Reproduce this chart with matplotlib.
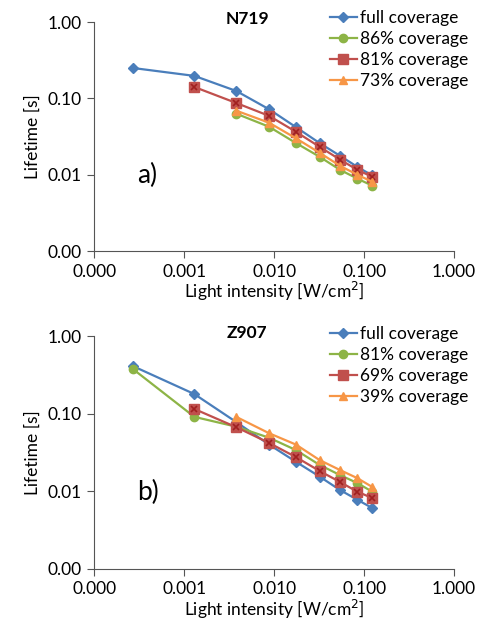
import matplotlib.pyplot as plt
from matplotlib.ticker import FixedLocator, FormatStrFormatter, NullLocator

plt.rcParams['font.family'] = ['Lato', 'DejaVu Sans']

# light intensity [W/cm2]
x_full = [0.00027, 0.0013, 0.0038, 0.0088, 0.0175, 0.032, 0.054, 0.084, 0.123]
x_part = [0.0013, 0.0038, 0.0088, 0.0175, 0.032, 0.054, 0.084, 0.123]
x_short = [0.0038, 0.0088, 0.0175, 0.032, 0.054, 0.084, 0.123]

# N719
n_full = [0.25, 0.197, 0.125, 0.072, 0.042, 0.026, 0.0177, 0.0127, 0.0098]
n_86 = [0.063, 0.0425, 0.026, 0.0172, 0.0116, 0.0089, 0.0072]
n_81 = [0.141, 0.087, 0.059, 0.0365, 0.0232, 0.0158, 0.0116, 0.0094]
n_73 = [0.069, 0.048, 0.030, 0.0194, 0.0131, 0.0100, 0.0081]

# Z907
z_full = [0.41, 0.179, 0.078, 0.040, 0.024, 0.0155, 0.0104, 0.0078, 0.0061]
z_81 = [0.376, 0.091, 0.068, 0.049, 0.034, 0.0219, 0.0162, 0.0128, 0.0099]
z_69 = [0.115, 0.067, 0.042, 0.0276, 0.0183, 0.0132, 0.0099, 0.0082]
z_39 = [0.091, 0.056, 0.040, 0.0253, 0.0188, 0.0148, 0.0114]

xticks = [0.0001, 0.001, 0.01, 0.1, 1]
yticks = [0.001, 0.01, 0.1, 1]

blue = '#4a7ebb'
green = '#8db446'
red = '#c0504d'
orange = '#f79646'

fig = plt.figure(figsize=(4.8, 6.2), dpi=100)
ax1 = fig.add_axes([0.196, 0.595, 0.75, 0.3695])
ax2 = fig.add_axes([0.196, 0.0823, 0.75, 0.3757])


def draw(ax, series, labels, title, tag, leg_y):
    xs, ys = series
    ax.plot(xs[0], ys[0], '-', color=blue, marker='D', ms=5, lw=1.6, label=labels[0])
    ax.plot(xs[1], ys[1], '-', color=green, marker='o', ms=6, lw=1.6, label=labels[1])
    ax.plot(xs[2], ys[2], '-', color=red, marker='s', ms=7, lw=1.6, label=labels[2])
    ax.plot(xs[2], ys[2], ls='none', color='#a02020', marker='x', ms=5, mew=1.2)
    ax.plot(xs[3], ys[3], '-', color=orange, marker='^', ms=6, lw=1.6, label=labels[3])
    ax.set_xscale('log')
    ax.set_yscale('log')
    ax.set_xlim(0.0001, 1)
    ax.set_ylim(0.001, 1)
    ax.xaxis.set_major_locator(FixedLocator(xticks))
    ax.yaxis.set_major_locator(FixedLocator(yticks))
    ax.xaxis.set_minor_locator(NullLocator())
    ax.yaxis.set_minor_locator(NullLocator())
    ax.xaxis.set_major_formatter(FormatStrFormatter('%.3f'))
    ax.yaxis.set_major_formatter(FormatStrFormatter('%.2f'))
    for s in ['top', 'right']:
        ax.spines[s].set_visible(False)
    for s in ['left', 'bottom']:
        ax.spines[s].set_color('#555555')
    ax.tick_params(direction='out', length=5, color='#555555', labelsize=12.5, pad=4)
    ax.set_xlabel('Light intensity [W/cm$^2$]', fontsize=12.5, labelpad=0)
    ax.set_ylabel('Lifetime [s]', fontsize=12.5, labelpad=5)
    ax.text(0.425, 1.015, title, transform=ax.transAxes, ha='center', va='center',
            fontsize=12.5, fontweight='bold')
    ax.text(0.12, 0.33, tag, transform=ax.transAxes, ha='left', va='center', fontsize=19)
    ax.legend(loc='upper left', bbox_to_anchor=(0.672, leg_y), bbox_transform=fig.transFigure,
              frameon=False, fontsize=12.5, handlelength=1.6, handletextpad=0.15,
              labelspacing=0.29, borderaxespad=0)


draw(ax1, ([x_full, x_short, x_part, x_short], [n_full, n_86, n_81, n_73]),
     ['full coverage', '86% coverage', '81% coverage', '73% coverage'], 'N719', 'a)', 0.995)
draw(ax2, ([x_full, x_full, x_part, x_short], [z_full, z_81, z_69, z_39]),
     ['full coverage', '81% coverage', '69% coverage', '39% coverage'], 'Z907', 'b)', 0.485)

fig.savefig('out.png', dpi=100)
